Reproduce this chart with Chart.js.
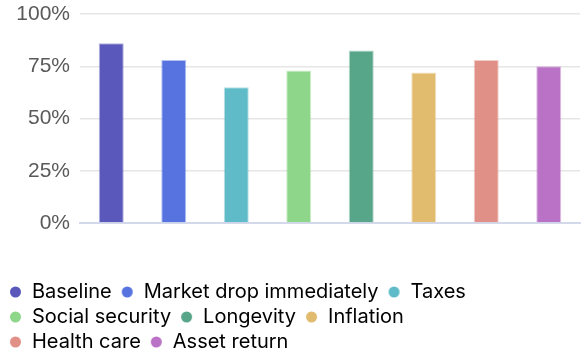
<!DOCTYPE html>
<html>
<head>
<meta charset="utf-8">
<script src="https://cdn.jsdelivr.net/npm/chart.js@4/dist/chart.umd.min.js"></script>
<style>
  html, body { margin: 0; padding: 0; background: #fff; }
  #wrap { width: 587px; height: 354px; }
</style>
</head>
<body>
<div id="wrap"><canvas id="grafico"></canvas></div>
<script>
// scenarios and success rates (%)
const cenarios = ['Baseline', 'Market drop immediately', 'Taxes', 'Social security', 'Longevity', 'Inflation', 'Health care', 'Asset return'];
const taxaSucesso = [86, 78, 65, 73, 82.5, 72, 78, 75];
const coresBarra = ['#5a59bb', '#5773df', '#5fbbc8', '#8ed78a', '#57a68a', '#e1bc6f', '#e09086', '#b972c5'];
const ticksY = [0, 25, 50, 75, 100];

// borda mais clara: mesma cor com alpha
function comAlpha(hex, a) {
  const n = parseInt(hex.slice(1), 16);
  return `rgba(${(n >> 16) & 255}, ${(n >> 8) & 255}, ${n & 255}, ${a})`;
}

// marcador da legenda: bolinha numa caixa um pouco mais larga,
// a sobra à esquerda serve de separação entre itens
const LARG_MARCADOR = 17;
function marcador(cor) {
  const c = document.createElement('canvas');
  c.width = LARG_MARCADOR;
  c.height = 12;
  const g = c.getContext('2d');
  g.fillStyle = cor;
  g.beginPath();
  g.arc(10.5, 6, 5.5, 0, Math.PI * 2);
  g.fill();
  return c;
}

// limita a largura das linhas da legenda (quebra em 3 linhas)
const LARG_LEGENDA = 545;
const limiteLegenda = {
  id: 'limiteLegenda',
  beforeLayout(chart) {
    const lg = chart.legend;
    if (!lg || lg._limitado) return;
    const orig = lg.update.bind(lg);
    lg.update = (w, h, m) => orig(Math.min(w, LARG_LEGENDA), h, m);
    lg._limitado = true;
  },
  afterLayout(chart) {
    // o draw quebra linha pelo "right" da caixa
    const lg = chart.legend;
    if (!lg) return;
    lg.right = Math.min(lg.right, lg.left + LARG_LEGENDA);
    lg.width = lg.right - lg.left;
  }
};

const ctx = document.getElementById('grafico').getContext('2d');
new Chart(ctx, {
  type: 'bar',
  data: {
    labels: cenarios,
    datasets: [{
      data: taxaSucesso,
      backgroundColor: coresBarra,
      borderColor: coresBarra.map(c => comAlpha(c, 0.45)),
      borderWidth: 1,
      categoryPercentage: 0.5,
      barPercentage: 0.8
    }]
  },
  options: {
    responsive: true,
    maintainAspectRatio: false,
    animation: false,
    layout: { padding: { top: 14, right: 7, left: 0, bottom: -8 } },
    scales: {
      x: {
        grid: { display: false },
        border: { color: '#d3d9ea', width: 2 },
        ticks: { display: false },
        afterFit: s => { s.height = 54; }
      },
      y: {
        min: 0,
        max: 100,
        afterBuildTicks: (axis) => { axis.ticks = ticksY.map(v => ({ value: v })); },
        afterFit: s => {
          s.width = 80;
          s.paddingTop = 0;
          s.paddingBottom = 0;
        },
        border: { display: false },
        grid: { color: '#e6e6e6', lineWidth: 1.5, drawTicks: false },
        ticks: {
          padding: 10,
          color: '#5a5a5a',
          font: { family: "'Liberation Sans', Arial, sans-serif", size: 21 },
          callback: v => v + '%'
        }
      }
    },
    plugins: {
      tooltip: { enabled: false },
      legend: {
        position: 'bottom',
        align: 'start',
        labels: {
          usePointStyle: true,
          pointStyleWidth: LARG_MARCADOR,
          boxHeight: 11,
          padding: 5,
          color: '#1f1f1f',
          font: { family: "Inter, 'Noto Sans', sans-serif", size: 20 },
          generateLabels: () => cenarios.map((nome, i) => ({
            text: nome,
            fillStyle: coresBarra[i],
            strokeStyle: coresBarra[i],
            lineWidth: 0,
            pointStyle: marcador(coresBarra[i]),
            index: i
          }))
        }
      }
    }
  },
  plugins: [limiteLegenda]
});
</script>
</body>
</html>
